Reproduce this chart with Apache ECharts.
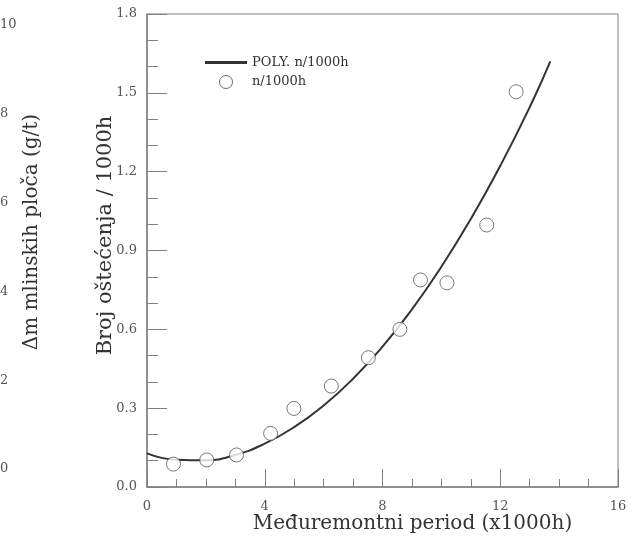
<!DOCTYPE html>
<html>
<head>
<meta charset="utf-8">
<script src="https://cdn.jsdelivr.net/npm/echarts@6/dist/echarts.min.js"></script>
<style>
  html, body { margin: 0; padding: 0; background: #fff; }
  #chart_container { width: 632px; height: 537px; }
</style>
</head>
<body>
<div id="chart_container"></div>
<script>
"use strict";

// measured points (x1000h, n/1000h)
const pointX = [0.9, 2.03, 3.04, 4.2, 4.99, 6.26, 7.52, 8.59, 9.29, 10.19, 11.54, 12.54];
const pointY = [0.087, 0.103, 0.122, 0.204, 0.299, 0.384, 0.492, 0.600, 0.788, 0.777, 0.997, 1.504];

// polynomial trend line
const polyX = [0, 1, 2, 3, 4, 5, 6, 7, 8, 9, 10, 11, 12, 13, 13.7];
const polyY = [0.128, 0.104, 0.102, 0.122, 0.165, 0.228, 0.31, 0.412, 0.534, 0.676, 0.838, 1.02, 1.222, 1.445, 1.62];

const serif = "DejaVu Serif";
const labelColor = "#555";
const axisColor = "#808080";

let pageLoaded = () => {
    let chartDom = document.getElementById('chart_container');
    let myChart = echarts.init(chartDom, null, { renderer: 'canvas' });

    const optEchart = {
        animation: false,
        backgroundColor: '#fff',
        grid: [
            { left: 147, right: 14, top: 14, bottom: 50, show: true, borderColor: axisColor, borderWidth: 1,
              outerBoundsMode: 'none' },
            // cut-off neighbour chart on the left edge
            { left: -100, right: 634, top: 25, bottom: 68, outerBoundsMode: 'none' }
        ],
        legend: {
            orient: 'vertical',
            left: 200,
            top: 51,
            itemWidth: 42,
            itemHeight: 13,
            itemGap: 6,
            textStyle: { fontFamily: serif, fontSize: 13, color: '#333' },
            data: [
                { name: 'POLY. n/1000h', icon: 'path://M0,0 L10,0 L10,0.7 L0,0.7 Z' },
                { name: 'n/1000h', itemStyle: { color: '#fff', borderColor: '#444', borderWidth: 1 } }
            ]
        },
        xAxis: [
            {
                gridIndex: 0,
                type: 'value',
                min: 0, max: 16, interval: 4,
                name: 'Međuremontni period (x1000h)',
                nameLocation: 'middle',
                nameGap: 27,
                nameMoveOverlap: false,
                nameTextStyle: { fontFamily: serif, fontSize: 20, color: '#333', padding: [0, 0, 0, 60] },
                axisLine: { lineStyle: { color: axisColor, width: 1.5 } },
                axisTick: { inside: true, length: 18, lineStyle: { color: axisColor } },
                minorTick: { show: true, splitNumber: 4, length: 8, lineStyle: { color: axisColor } },
                splitLine: { show: false },
                axisLabel: { fontFamily: serif, fontSize: 13, color: labelColor, margin: 13 }
            },
            { gridIndex: 1, type: 'value', show: false }
        ],
        yAxis: [
            {
                gridIndex: 0,
                type: 'value',
                min: 0, max: 1.8, interval: 0.3,
                name: 'Broj oštećenja / 1000h',
                nameLocation: 'middle',
                nameGap: 31,
                nameRotate: 90,
                nameMoveOverlap: false,
                nameTextStyle: { fontFamily: serif, fontSize: 21, color: '#333', padding: [0, 0, 0, 30] },
                axisLine: { lineStyle: { color: axisColor, width: 1.5 } },
                axisTick: { inside: true, length: 20, lineStyle: { color: axisColor } },
                minorTick: { show: true, splitNumber: 3, length: 11, lineStyle: { color: axisColor } },
                splitLine: { show: false },
                axisLabel: { fontFamily: serif, fontSize: 13, color: labelColor, margin: 10,
                             formatter: (v) => v.toFixed(1) }
            },
            {
                gridIndex: 1,
                type: 'value',
                position: 'right',
                min: 0, max: 10, interval: 2,
                name: 'Δm mlinskih ploča (g/t)',
                nameLocation: 'middle',
                nameGap: 24,
                nameRotate: 90,
                nameMoveOverlap: false,
                nameTextStyle: { fontFamily: serif, fontSize: 20, color: '#333', padding: [0, 0, 0, 30] },
                axisLine: { show: false },
                axisTick: { show: false },
                splitLine: { show: false },
                axisLabel: { fontFamily: serif, fontSize: 13, color: labelColor, margin: 2 }
            }
        ],
        series: [
            {
                name: 'POLY. n/1000h',
                type: 'line',
                xAxisIndex: 0, yAxisIndex: 0,
                data: polyX.map((x, i) => [x, polyY[i]]),
                smooth: true,
                showSymbol: false,
                symbol: 'none',
                lineStyle: { color: '#333', width: 2 },
                itemStyle: { color: '#333' },
                z: 2
            },
            {
                name: 'n/1000h',
                type: 'scatter',
                xAxisIndex: 0, yAxisIndex: 0,
                data: pointX.map((x, i) => [x, pointY[i]]),
                symbol: 'circle',
                symbolSize: 14,
                itemStyle: { color: '#fff', borderColor: '#555', borderWidth: 1 },
                z: 3
            }
        ]
    };

    myChart.setOption(optEchart);
    console.log(`pageLoaded() - echart config and creation complete`);
};

window.addEventListener('load', pageLoaded, false);
</script>
</body>
</html>
